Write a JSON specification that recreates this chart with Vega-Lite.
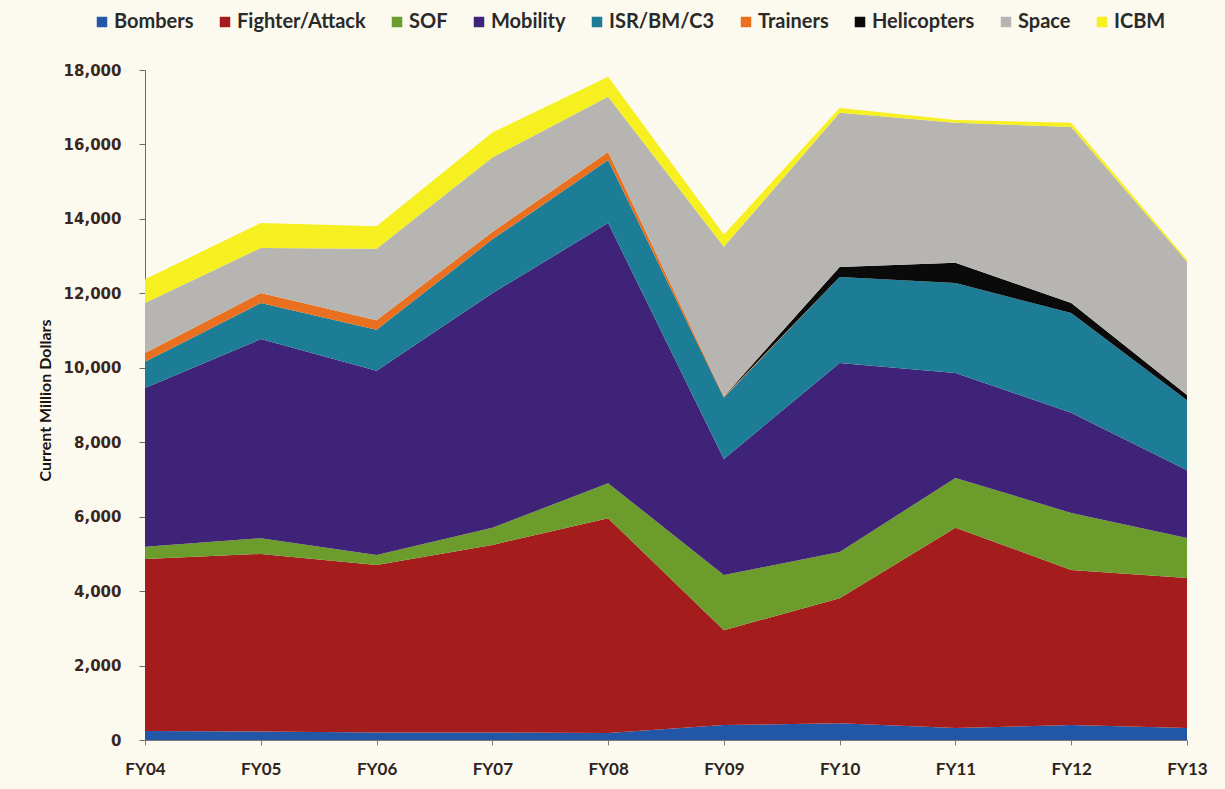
{
  "$schema": "https://vega.github.io/schema/vega-lite/v6.json",
  "autosize": "none",
  "width": 1042,
  "height": 670,
  "padding": {"left": 145, "top": 70, "right": 38, "bottom": 49},
  "background": "#fcfaef",
  "config": {
    "view": {"stroke": null},
    "font": "Lato"
  },
  "data": {
    "values": [
      {"fy": "FY04", "series": "Bombers", "amount": 240},
      {"fy": "FY04", "series": "Fighter/Attack", "amount": 4620},
      {"fy": "FY04", "series": "SOF", "amount": 330},
      {"fy": "FY04", "series": "Mobility", "amount": 4270},
      {"fy": "FY04", "series": "ISR/BM/C3", "amount": 700},
      {"fy": "FY04", "series": "Trainers", "amount": 240},
      {"fy": "FY04", "series": "Helicopters", "amount": 0},
      {"fy": "FY04", "series": "Space", "amount": 1340},
      {"fy": "FY04", "series": "ICBM", "amount": 640},

      {"fy": "FY05", "series": "Bombers", "amount": 230},
      {"fy": "FY05", "series": "Fighter/Attack", "amount": 4770},
      {"fy": "FY05", "series": "SOF", "amount": 420},
      {"fy": "FY05", "series": "Mobility", "amount": 5350},
      {"fy": "FY05", "series": "ISR/BM/C3", "amount": 970},
      {"fy": "FY05", "series": "Trainers", "amount": 270},
      {"fy": "FY05", "series": "Helicopters", "amount": 0},
      {"fy": "FY05", "series": "Space", "amount": 1210},
      {"fy": "FY05", "series": "ICBM", "amount": 670},

      {"fy": "FY06", "series": "Bombers", "amount": 200},
      {"fy": "FY06", "series": "Fighter/Attack", "amount": 4500},
      {"fy": "FY06", "series": "SOF", "amount": 270},
      {"fy": "FY06", "series": "Mobility", "amount": 4950},
      {"fy": "FY06", "series": "ISR/BM/C3", "amount": 1100},
      {"fy": "FY06", "series": "Trainers", "amount": 260},
      {"fy": "FY06", "series": "Helicopters", "amount": 0},
      {"fy": "FY06", "series": "Space", "amount": 1920},
      {"fy": "FY06", "series": "ICBM", "amount": 600},

      {"fy": "FY07", "series": "Bombers", "amount": 200},
      {"fy": "FY07", "series": "Fighter/Attack", "amount": 5040},
      {"fy": "FY07", "series": "SOF", "amount": 460},
      {"fy": "FY07", "series": "Mobility", "amount": 6300},
      {"fy": "FY07", "series": "ISR/BM/C3", "amount": 1450},
      {"fy": "FY07", "series": "Trainers", "amount": 200},
      {"fy": "FY07", "series": "Helicopters", "amount": 0},
      {"fy": "FY07", "series": "Space", "amount": 2000},
      {"fy": "FY07", "series": "ICBM", "amount": 670},

      {"fy": "FY08", "series": "Bombers", "amount": 190},
      {"fy": "FY08", "series": "Fighter/Attack", "amount": 5770},
      {"fy": "FY08", "series": "SOF", "amount": 940},
      {"fy": "FY08", "series": "Mobility", "amount": 6990},
      {"fy": "FY08", "series": "ISR/BM/C3", "amount": 1690},
      {"fy": "FY08", "series": "Trainers", "amount": 220},
      {"fy": "FY08", "series": "Helicopters", "amount": 0},
      {"fy": "FY08", "series": "Space", "amount": 1480},
      {"fy": "FY08", "series": "ICBM", "amount": 540},

      {"fy": "FY09", "series": "Bombers", "amount": 400},
      {"fy": "FY09", "series": "Fighter/Attack", "amount": 2550},
      {"fy": "FY09", "series": "SOF", "amount": 1480},
      {"fy": "FY09", "series": "Mobility", "amount": 3120},
      {"fy": "FY09", "series": "ISR/BM/C3", "amount": 1650},
      {"fy": "FY09", "series": "Trainers", "amount": 30},
      {"fy": "FY09", "series": "Helicopters", "amount": 0},
      {"fy": "FY09", "series": "Space", "amount": 4020},
      {"fy": "FY09", "series": "ICBM", "amount": 330},

      {"fy": "FY10", "series": "Bombers", "amount": 450},
      {"fy": "FY10", "series": "Fighter/Attack", "amount": 3360},
      {"fy": "FY10", "series": "SOF", "amount": 1240},
      {"fy": "FY10", "series": "Mobility", "amount": 5080},
      {"fy": "FY10", "series": "ISR/BM/C3", "amount": 2310},
      {"fy": "FY10", "series": "Trainers", "amount": 0},
      {"fy": "FY10", "series": "Helicopters", "amount": 270},
      {"fy": "FY10", "series": "Space", "amount": 4140},
      {"fy": "FY10", "series": "ICBM", "amount": 130},

      {"fy": "FY11", "series": "Bombers", "amount": 320},
      {"fy": "FY11", "series": "Fighter/Attack", "amount": 5380},
      {"fy": "FY11", "series": "SOF", "amount": 1340},
      {"fy": "FY11", "series": "Mobility", "amount": 2820},
      {"fy": "FY11", "series": "ISR/BM/C3", "amount": 2420},
      {"fy": "FY11", "series": "Trainers", "amount": 0},
      {"fy": "FY11", "series": "Helicopters", "amount": 540},
      {"fy": "FY11", "series": "Space", "amount": 3760},
      {"fy": "FY11", "series": "ICBM", "amount": 80},

      {"fy": "FY12", "series": "Bombers", "amount": 400},
      {"fy": "FY12", "series": "Fighter/Attack", "amount": 4170},
      {"fy": "FY12", "series": "SOF", "amount": 1530},
      {"fy": "FY12", "series": "Mobility", "amount": 2690},
      {"fy": "FY12", "series": "ISR/BM/C3", "amount": 2680},
      {"fy": "FY12", "series": "Trainers", "amount": 0},
      {"fy": "FY12", "series": "Helicopters", "amount": 270},
      {"fy": "FY12", "series": "Space", "amount": 4730},
      {"fy": "FY12", "series": "ICBM", "amount": 110},

      {"fy": "FY13", "series": "Bombers", "amount": 320},
      {"fy": "FY13", "series": "Fighter/Attack", "amount": 4030},
      {"fy": "FY13", "series": "SOF", "amount": 1080},
      {"fy": "FY13", "series": "Mobility", "amount": 1820},
      {"fy": "FY13", "series": "ISR/BM/C3", "amount": 1880},
      {"fy": "FY13", "series": "Trainers", "amount": 0},
      {"fy": "FY13", "series": "Helicopters", "amount": 140},
      {"fy": "FY13", "series": "Space", "amount": 3580},
      {"fy": "FY13", "series": "ICBM", "amount": 50}
    ]
  },
  "transform": [
    {"calculate": "indexof(['Bombers','Fighter/Attack','SOF','Mobility','ISR/BM/C3','Trainers','Helicopters','Space','ICBM'], datum.series)", "as": "stackRank"}
  ],
  "mark": {"type": "area", "interpolate": "linear"},
  "encoding": {
    "x": {
      "field": "fy",
      "type": "ordinal",
      "scale": {"type": "point", "padding": 0},
      "axis": {
        "title": null,
        "labelAngle": 0,
        "labelFont": "Lato",
        "labelFontWeight": "bold",
        "labelFontSize": 17,
        "labelColor": "#2e2420",
        "labelPadding": 16,
        "tickSize": 5,
        "tickColor": "#7a7a7a",
        "domainColor": "#7a7a7a",
        "grid": false
      }
    },
    "y": {
      "field": "amount",
      "type": "quantitative",
      "stack": "zero",
      "scale": {"domain": [0, 18000], "nice": false},
      "axis": {
        "title": "Current Million Dollars",
        "titleFont": "Lato",
        "titleFontWeight": "bold",
        "titleFontSize": 16,
        "titleColor": "#1a1410",
        "titleX": -100,
        "titleY": 330,
        "titleAngle": -90,
        "titleAlign": "center",
        "titleBaseline": "middle",
        "values": [0, 2000, 4000, 6000, 8000, 10000, 12000, 14000, 16000, 18000],
        "format": ",d",
        "labelFont": "DejaVu Sans",
        "labelFontWeight": "bold",
        "labelFontSize": 15,
        "labelColor": "#3a2620",
        "labelPadding": 18,
        "tickSize": 6,
        "tickColor": "#6a6a6a",
        "domainColor": "#6a6a6a",
        "grid": false
      }
    },
    "color": {
      "field": "series",
      "type": "nominal",
      "scale": {
        "domain": ["Bombers", "Fighter/Attack", "SOF", "Mobility", "ISR/BM/C3", "Trainers", "Helicopters", "Space", "ICBM"],
        "range": ["#2257a8", "#a51c1c", "#6c9c2c", "#3f2378", "#1d7d97", "#e8701f", "#0a0a0a", "#b7b5b1", "#f6f020"]
      },
      "legend": {
        "title": null,
        "orient": "none",
        "legendX": -53,
        "legendY": -58,
        "direction": "horizontal",
        "columns": 9,
        "symbolType": "square",
        "symbolSize": 110,
        "symbolStrokeWidth": 0,
        "labelFont": "Lato",
        "labelFontWeight": "bold",
        "labelFontSize": 20,
        "labelColor": "#2a2a2a",
        "labelOffset": 2,
        "columnPadding": 21
      }
    },
    "order": {"field": "stackRank", "type": "quantitative"}
  }
}
